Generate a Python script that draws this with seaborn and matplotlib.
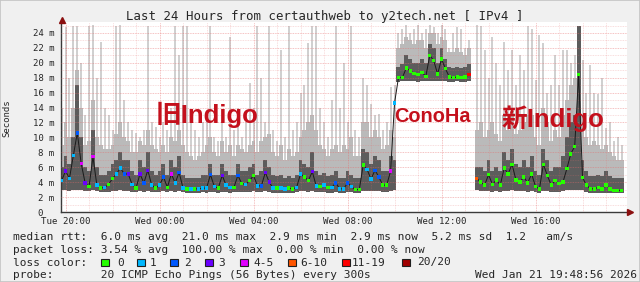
import numpy as np
import pandas as pd
import matplotlib
matplotlib.use("Agg")
import matplotlib.pyplot as plt
import matplotlib.dates as mdates
from matplotlib.patches import Rectangle
from matplotlib.lines import Line2D
from matplotlib.ticker import MultipleLocator, FuncFormatter
import seaborn as sns

nan = np.nan

# ---------------- data (10-minute steps, Tue 19:50 -> Wed 19:40) ----------------
median_ms = [
    4.2, 5.5, 4.5, 7.6, 10.6, 6.5, 3.9, 3.4, 7.4, 3.6, 3.2, 3.3,
    3.7, 4.5, 5.1, 5.9, 5.1, 5.1, 3.7, 3.2, 5.1, 3.9, 5.6, 3.6,
    3.2, 3.6, 4.7, 3.3, 5.1, 3.9, 5.3, 3.2, 3.1, 3.1, 3.1, 3.1,
    3.2, 3.2, 5.0, 3.4, 3.2, 4.9, 3.6, 3.3, 3.3, 4.9, 3.8, 3.7,
    4.2, 4.9, 3.5, 3.5, 5.3, 4.0, 3.2, 3.2, 3.2, 3.1, 3.2, 3.1,
    3.3, 5.1, 4.7, 4.2, 5.4, 3.5, 3.4, 3.6, 3.3, 3.3, 3.9, 3.1,
    3.1, 3.9, 3.4, 3.0, 3.0, 6.3, 5.7, 4.4, 5.6, 4.7, 3.6, 3.6,
    5.5, 14.6, 18.0, 18.0, 19.3, 18.9, 18.6, 18.4, 18.7, 18.2, 21.0, 20.3,
    18.5, 20.5, 19.2, 18.1, 18.0, 18.1, 18.0, 18.1, 18.4, nan, 4.5, 4.0,
    3.6, 5.0, 3.7, 4.3, 3.6, 5.9, 5.1, 6.4, 4.3, 4.0, 4.7, 3.9,
    5.1, 3.4, 3.1, 6.4, 4.9, 3.6, 4.2, 3.8, 4.0, 5.8, 7.8, 8.8,
    18.4, 4.6, 3.6, 3.1, 3.1, 3.3, 3.1, 3.6, 3.1, 2.9, 2.9, 2.9,
]

loss_class = [
    1, 3, 1, 1, 2, 4, 3, 0, 4, 1, 0, 1,
    0, 0, 1, 1, 2, 3, 1, 0, 3, 2, 3, 1,
    0, 1, 2, 0, 4, 1, 2, 1, 0, 1, 0, 1,
    1, 1, 2, 1, 0, 3, 1, 1, 0, 2, 0, 1,
    0, 0, 1, 2, 3, 3, 1, 0, 1, 1, 0, 0,
    1, 1, 0, 0, 3, 1, 0, 1, 0, 1, 2, 1,
    1, 2, 1, 0, 0, 0, 1, 1, 2, 2, 0, 0,
    4, 1, 0, 0, 0, 0, 0, 0, 0, 0, 0, 0,
    0, 0, 0, 0, 0, 0, 0, 0, 6, 0, 5, 0,
    0, 0, 0, 0, 0, 0, 0, 0, 0, 0, 0, 0,
    0, 0, 0, 0, 0, 0, 0, 0, 0, 0, 0, 0,
    0, 0, 0, 0, 0, 0, 0, 0, 0, 0, 0, 0,
]

smoke_lo = [
    2.9, 2.9, 2.8, 3.0, 3.0, 2.9, 2.8, 2.8, 2.9, 2.8, 2.7, 2.7,
    2.7, 2.8, 2.8, 2.9, 2.8, 2.8, 2.7, 2.7, 2.8, 2.7, 2.8, 2.7,
    2.7, 2.7, 2.8, 2.7, 2.8, 2.7, 2.8, 2.7, 2.6, 2.6, 2.6, 2.6,
    2.7, 2.6, 2.7, 2.7, 2.6, 2.7, 2.7, 2.6, 2.7, 2.7, 2.7, 2.7,
    2.7, 2.8, 2.7, 2.7, 2.8, 2.7, 2.6, 2.6, 2.6, 2.6, 2.6, 2.6,
    2.7, 2.8, 2.8, 2.7, 2.8, 2.7, 2.7, 2.7, 2.6, 2.6, 2.7, 2.6,
    2.6, 2.7, 2.7, 2.6, 2.6, 2.8, 2.8, 2.8, 2.8, 2.8, 2.7, 2.7,
    2.8, 3.0, 17.4, 17.5, 17.5, 17.5, 17.5, 17.4, 17.5, 17.5, 17.6, 17.6,
    17.5, 17.6, 17.5, 17.4, 17.4, 17.5, 17.4, 17.4, 17.5, nan, 2.9, 2.8,
    2.8, 2.8, 2.7, 2.8, 2.7, 2.8, 2.8, 2.9, 2.8, 2.8, 2.8, 2.7,
    2.8, 2.7, 2.6, 2.8, 2.8, 2.7, 2.7, 2.7, 2.8, 2.9, 3.0, 3.0,
    3.0, 2.9, 2.7, 2.6, 2.6, 2.6, 2.6, 2.6, 2.6, 2.5, 2.5, 2.5,
]

smoke_core = [
    6.0, 7.5, 6.5, 10.0, 17.0, 10.0, 6.0, 5.5, 11.0, 6.0, 5.0, 5.0,
    5.5, 6.5, 7.0, 8.0, 7.0, 7.0, 5.5, 5.0, 7.0, 6.0, 8.0, 5.5,
    5.0, 5.5, 6.5, 5.0, 7.0, 6.0, 7.5, 5.0, 4.5, 4.5, 4.5, 4.5,
    5.0, 5.0, 6.5, 5.0, 5.0, 6.5, 5.5, 5.0, 5.0, 6.5, 5.5, 5.5,
    6.0, 6.5, 5.0, 5.5, 7.0, 6.0, 5.0, 4.8, 5.0, 4.6, 4.8, 4.6,
    5.0, 7.0, 6.5, 6.0, 8.0, 5.5, 5.0, 5.2, 4.8, 5.0, 5.5, 4.6,
    4.6, 5.5, 5.0, 4.5, 4.5, 8.5, 8.0, 6.5, 7.5, 7.0, 5.5, 5.5,
    7.5, 7.0, 19.5, 19.8, 21.0, 20.5, 20.0, 20.0, 20.5, 20.0, 22.5, 22.0,
    20.0, 22.0, 20.5, 19.5, 19.3, 19.5, 19.3, 19.5, 19.8, nan, 6.0, 6.0,
    5.5, 7.0, 5.5, 6.0, 5.5, 8.0, 7.0, 8.5, 6.5, 6.0, 7.0, 6.0,
    7.5, 5.5, 5.0, 8.5, 7.0, 5.5, 6.0, 6.0, 7.5, 10.0, 12.0, 13.0,
    25.0, 7.0, 5.5, 4.8, 4.8, 5.0, 4.8, 5.5, 4.8, 4.5, 4.5, 4.5,
]

smoke_mid = [
    9.0, 12.0, 10.0, 14.0, 19.0, 14.0, 9.0, 9.5, 15.0, 10.0, 9.0, 8.5,
    8.5, 9.0, 10.5, 12.0, 10.0, 9.5, 8.0, 8.0, 9.5, 9.0, 11.0, 9.0,
    8.5, 8.0, 9.0, 8.0, 10.0, 9.5, 11.0, 9.0, 8.0, 7.5, 7.0, 7.5,
    8.0, 9.0, 10.0, 8.0, 7.5, 9.5, 8.0, 9.0, 7.5, 9.0, 8.5, 8.0,
    9.0, 9.5, 8.0, 9.5, 10.0, 10.5, 8.0, 7.5, 9.0, 7.0, 8.5, 7.5,
    8.0, 10.0, 11.0, 12.0, 13.0, 11.0, 9.0, 8.5, 7.5, 8.5, 9.0, 8.0,
    9.0, 8.5, 10.0, 7.5, 7.5, 12.0, 12.0, 10.0, 11.0, 10.0, 8.5, 9.0,
    11.0, 10.0, 22.0, 22.5, 23.5, 23.0, 22.5, 23.0, 23.0, 22.0, 24.0, 24.0,
    22.5, 23.5, 23.0, 21.5, 21.5, 22.0, 21.5, 21.0, 22.0, nan, 11.0, 12.0,
    10.0, 11.0, 12.0, 10.5, 9.5, 13.0, 11.0, 13.5, 10.5, 11.0, 12.0, 13.0,
    13.0, 10.0, 9.0, 14.0, 12.0, 9.5, 11.0, 10.0, 13.0, 15.0, 17.0, 18.0,
    25.0, 13.0, 10.0, 9.0, 9.5, 9.0, 8.5, 9.0, 8.0, 7.5, 7.0, 7.0,
]

smoke_top = [
    14.0, 24.8, 18.0, 25.0, 25.0, 20.0, 13.0, 25.0, 25.0, 18.0, 22.8, 14.0,
    13.0, 11.0, 25.0, 25.0, 15.0, 12.0, 11.0, 10.6, 10.0, 11.0, 25.0, 12.0,
    11.4, 10.0, 12.0, 11.0, 14.0, 25.0, 21.0, 25.0, 25.0, 13.0, 11.0, 10.0,
    12.0, 13.0, 25.0, 10.0, 9.5, 12.0, 10.0, 23.5, 11.0, 14.0, 10.0, 12.0,
    17.3, 14.0, 25.0, 17.9, 12.0, 25.0, 11.0, 9.5, 21.7, 10.0, 25.0, 11.0,
    12.0, 16.0, 17.0, 22.7, 25.0, 25.0, 14.0, 12.0, 10.0, 15.0, 25.0, 14.0,
    20.0, 12.0, 25.0, 11.0, 10.0, 18.0, 17.0, 14.5, 13.0, 13.2, 11.0, 12.0,
    16.8, 17.0, 24.0, 24.5, 25.0, 24.0, 24.5, 25.0, 24.0, 24.5, 25.0, 24.8,
    24.0, 25.0, 24.5, 22.0, 24.0, 24.8, 24.5, 22.0, 23.0, nan, 25.0, 25.0,
    21.7, 18.0, 23.5, 20.0, 17.0, 22.8, 19.0, 21.7, 17.0, 21.0, 19.0, 25.0,
    24.5, 17.7, 23.7, 22.6, 16.0, 17.0, 21.0, 17.0, 21.7, 21.7, 20.0, 21.0,
    25.0, 20.4, 16.0, 19.7, 16.0, 15.8, 18.0, 11.3, 12.0, 9.5, 10.0, 9.0,
]

loss_labels = ["0", "1", "2", "3", "4-5", "6-10", "11-19", "20/20"]
loss_colors = ["#26ff00", "#00b8ff", "#0059ff", "#6a00ff", "#e000ff",
               "#ff5500", "#ff0000", "#a00000"]

title_text = "Last 24 Hours from certauthweb to y2tech.net [ IPv4 ]"
rtt_line = "median rtt:  6.0 ms avg  21.0 ms max  2.9 ms min  2.9 ms now  5.2 ms sd  1.2   am/s"
loss_line = "packet loss: 3.54 % avg  100.00 % max  0.00 % min  0.00 % now"
probe_line = "probe:       20 ICMP Echo Pings (56 Bytes) every 300s"
stamp_text = "Wed Jan 21 19:48:56 2026"
server_labels = ["旧Indigo", "ConoHa", "新Indigo"]

for arr in (median_ms, loss_class, smoke_lo, smoke_core, smoke_mid, smoke_top):
    assert len(arr) == 144, len(arr)

times = pd.date_range("2026-01-20 19:50", periods=144, freq="10min")
df = pd.DataFrame({
    "x": mdates.date2num(times.to_pydatetime()),
    "median": median_ms,
    "loss": [loss_labels[i] for i in loss_class],
    "lo": smoke_lo, "core": smoke_core, "mid": smoke_mid, "top": smoke_top,
})
valid = df.dropna()

# ---------------- styling ----------------
sns.set_style("white")
plt.rcParams["font.family"] = ["DejaVu Sans Mono"]

W, H = 640, 282
def fx(px):
    return px / W
def fy(py):
    return 1 - py / H

fig = plt.figure(figsize=(6.4, 2.82), dpi=100, facecolor="#f0f0f0")
ax_l, ax_r, ax_b, ax_t = 61.2, 627.0, 212.0, 22.0
ax = fig.add_axes([fx(ax_l), fy(ax_b), fx(ax_r) - fx(ax_l), fy(ax_t) - fy(ax_b)])
ax.set_facecolor("white")

bw = 10 / 1440.0
ax.bar(valid["x"], valid["top"] - valid["lo"], bottom=valid["lo"], width=bw * 0.5,
       color="#d0d0d0", linewidth=0, zorder=1)
ax.bar(valid["x"], valid["mid"] - valid["lo"], bottom=valid["lo"], width=bw,
       color="#bababa", linewidth=0, zorder=1.1)
ax.bar(valid["x"], valid["core"] - valid["lo"], bottom=valid["lo"], width=bw,
       color="#5c5c5c", linewidth=0, zorder=1.2)

ax.plot(df["x"], df["median"], color="#1a1a1a", lw=0.7, zorder=3)
sns.scatterplot(data=valid, x="x", y="median", hue="loss",
                hue_order=loss_labels, palette=dict(zip(loss_labels, loss_colors)),
                marker="s", s=6, linewidth=0, legend=False, ax=ax, zorder=5)

x0 = mdates.date2num(pd.Timestamp("2026-01-20 19:48:56").to_pydatetime())
ax.set_xlim(x0, x0 + (ax_r - ax_l) / 23.5 / 24.0)
ax.set_ylim(0, (ax_b - ax_t) / 7.46)

ax.xaxis.set_major_locator(mdates.HourLocator(byhour=range(0, 24, 4)))
ax.xaxis.set_minor_locator(mdates.HourLocator())
ax.xaxis.set_major_formatter(mdates.DateFormatter("%a %H:%M"))
ax.yaxis.set_major_locator(MultipleLocator(2))
ax.yaxis.set_minor_locator(MultipleLocator(1))
ax.yaxis.set_major_formatter(FuncFormatter(lambda v, p: "0  " if v == 0 else f"{int(round(v))} m"))

ax.set_axisbelow(False)
gcol = (0.9, 0.42, 0.42)
ax.grid(which="major", color=gcol, alpha=0.55, lw=0.6, ls=(0, (1, 1)))
ax.grid(which="minor", color=gcol, alpha=0.3, lw=0.6, ls=(0, (1, 1)))

for s in ("top", "right"):
    ax.spines[s].set_visible(False)
for s in ("left", "bottom"):
    ax.spines[s].set_color("#3a3a3a")
    ax.spines[s].set_linewidth(1.0)
ax.tick_params(axis="both", which="both", length=0)
ax.tick_params(axis="x", labelsize=6.6, pad=3.3)
ax.tick_params(axis="y", labelsize=6.5, pad=5.0)
ax.set_xlabel("")
ax.set_ylabel("")

# axis arrows
fig.add_artist(Line2D([fx(61.7)], [fy(19.5)], marker="^", markersize=4.2,
                      color="#8b1010", linestyle="none", transform=fig.transFigure))
fig.add_artist(Line2D([fx(630)], [fy(212)], marker=">", markersize=4.2,
                      color="#8b1010", linestyle="none", transform=fig.transFigure))

# frame
fig.add_artist(Rectangle((0, 0), 1, 1, fill=False, edgecolor="#c4c4c4", lw=1.2,
                         transform=fig.transFigure))

# texts
fig.text(fx(324.5), fy(20), title_text, ha="center", va="baseline", fontsize=8.9)
fig.text(fx(7), fy(118), "Seconds", rotation=90, ha="center", va="center", fontsize=6.5)

fs = 8.0
fig.text(fx(13), fy(240.5), rtt_line, ha="left", va="baseline", fontsize=fs)
fig.text(fx(13), fy(253), loss_line, ha="left", va="baseline", fontsize=fs)
fig.text(fx(13), fy(265.5), "loss color:", ha="left", va="baseline", fontsize=fs)
fig.text(fx(13), fy(278), probe_line, ha="left", va="baseline", fontsize=fs)
fig.text(fx(637), fy(278), stamp_text, ha="right", va="baseline", fontsize=fs)

sq_x = [101, 137, 170, 205, 240, 288, 342, 402]
lab_x = [117, 150, 184, 218, 253, 300, 352, 417]
for sx, lx, lab, col in zip(sq_x, lab_x, loss_labels, loss_colors):
    fig.add_artist(Rectangle((fx(sx), fy(266)), 7.5 / W, 7.5 / H, facecolor=col,
                             edgecolor="#202020", lw=0.8, transform=fig.transFigure))
    fig.text(fx(lx), fy(265.5), lab, ha="left", va="baseline", fontsize=fs)

# server annotations
red = "#c4101c"
fam = ["Liberation Sans", "Noto Sans CJK JP"]
fig.text(fx(156), fy(123.5), server_labels[0], ha="left", va="baseline",
         fontsize=18.5, fontweight="bold", color=red, family=fam)
fig.text(fx(394), fy(122), server_labels[1], ha="left", va="baseline",
         fontsize=14.3, fontweight="bold", color=red, family=fam)
fig.text(fx(502), fy(127), server_labels[2], ha="left", va="baseline",
         fontsize=18.5, fontweight="bold", color=red, family=fam)

fig.savefig("out.png", dpi=100, facecolor=fig.get_facecolor())
